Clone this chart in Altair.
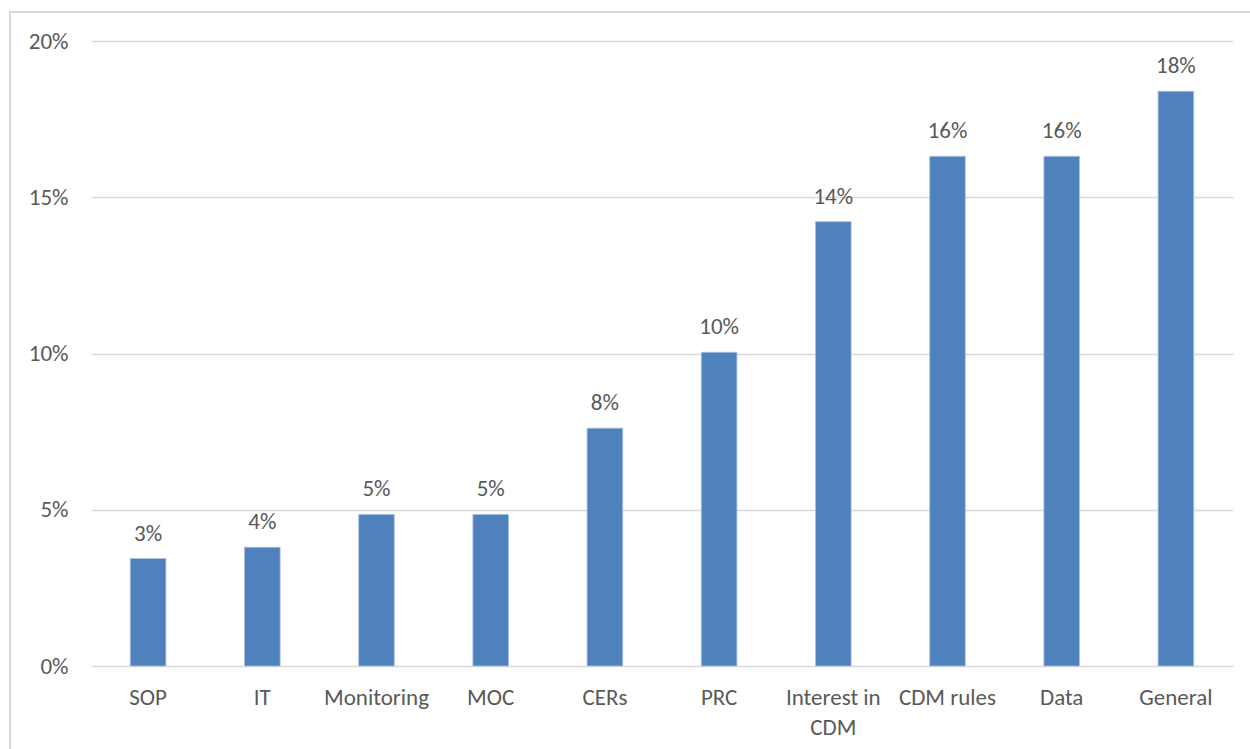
import altair as alt
import pandas as pd

categories = ["SOP", "IT", "Monitoring", "MOC", "CERs", "PRC",
              "Interest in CDM", "CDM rules", "Data", "General"]
values = [0.0344, 0.0380, 0.0485, 0.0485, 0.0761, 0.1004,
          0.1422, 0.1631, 0.1631, 0.1839]
y_ticks = [0, 0.05, 0.10, 0.15, 0.20]

df = pd.DataFrame({"category": categories, "value": values})

W, H = 1142, 625
FONT = "Carlito, Calibri, Lato"
GRAY = "#595959"
FS = 23

x = alt.X("category:N", sort=categories,
          scale=alt.Scale(paddingInner=0.688, paddingOuter=0.344),
          axis=alt.Axis(title=None, labelAngle=0, labelFontSize=FS, labelFont=FONT,
                        labelColor=GRAY, ticks=False, domain=False, labelPadding=20,
                        labelLineHeight=30, grid=False,
                        labelExpr="datum.label == 'Interest in CDM' ? ['Interest in', 'CDM'] : datum.label"))
y = alt.Y("value:Q", scale=alt.Scale(domain=[0, 0.20], nice=False),
          axis=alt.Axis(title=None, format=".0%", values=y_ticks, labelFontSize=FS,
                        labelFont=FONT, labelColor=GRAY, ticks=False, domain=False,
                        labelPadding=23, gridColor="#d9d9d9", gridWidth=1.5))

bars = alt.Chart(df).mark_bar(color="#4f81bd", stroke="#a9c3e1", strokeWidth=0.8).encode(x=x, y=y)
labels = alt.Chart(df).mark_text(baseline="bottom", dy=-13, fontSize=FS, font=FONT,
                                 color=GRAY).encode(
    x=alt.X("category:N", sort=categories),
    y="value:Q",
    text=alt.Text("value:Q", format=".0%"))

frame = alt.Chart(df).mark_rect(fill=None, stroke="#d9d9d9", strokeWidth=2).encode(
    x=alt.value(-81), x2=alt.value(W + 60),
    y=alt.value(-29), y2=alt.value(H + 120))

chart = alt.layer(frame, bars, labels).properties(
    width=W, height=H,
    autosize=alt.AutoSizeParams(type="none"),
    padding={"left": 91, "top": 41, "right": 17, "bottom": 83},
    view=alt.ViewBackground(stroke=None, strokeWidth=0),
).configure_view(stroke=None).configure(background="white")

chart.save("out.html", embed_options={"renderer": "svg", "actions": False})
